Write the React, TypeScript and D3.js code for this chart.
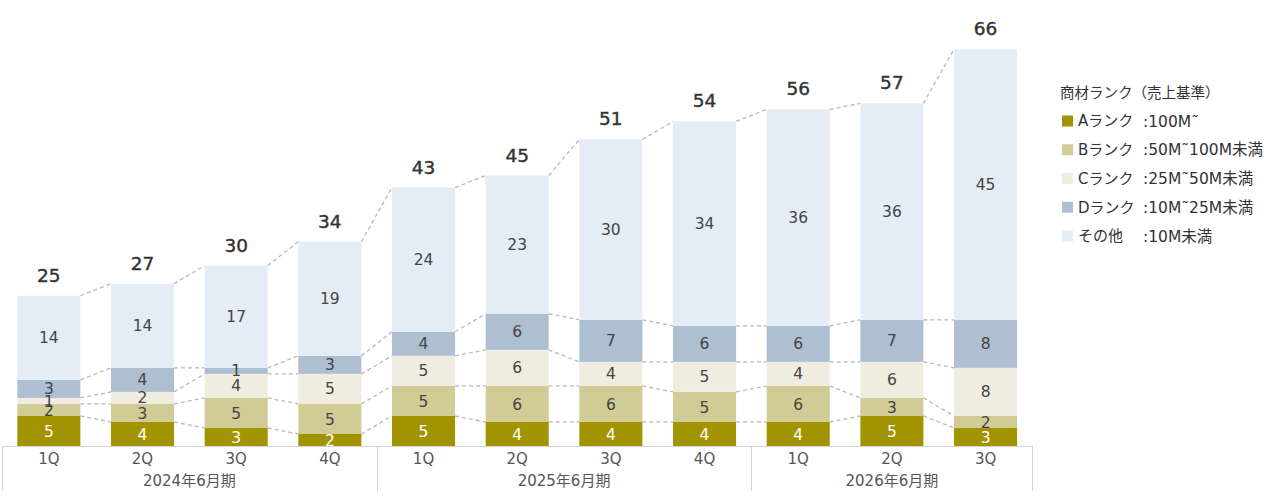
import { useEffect, useRef } from 'react';
import * as d3 from 'd3';

const quarters = ['1Q', '2Q', '3Q', '4Q', '1Q', '2Q', '3Q', '4Q', '1Q', '2Q', '3Q'];
const years = ['2024年6月期', '2025年6月期', '2026年6月期'];
const yearSpans = [4, 4, 3];

const rankA = [5, 4, 3, 2, 5, 4, 4, 4, 4, 5, 3];
const rankB = [2, 3, 5, 5, 5, 6, 6, 5, 6, 3, 2];
const rankC = [1, 2, 4, 5, 5, 6, 4, 5, 4, 6, 8];
const rankD = [3, 4, 1, 3, 4, 6, 7, 6, 6, 7, 8];
const others = [14, 14, 17, 19, 24, 23, 30, 34, 36, 36, 45];

const seriesKeys = ['A', 'B', 'C', 'D', 'E'];
const seriesColors = ['#a29400', '#d1cb96', '#efede0', '#afbfd2', '#e4ecf5'];
const legendTitle = '商材ランク（売上基準）';
const legendNames = ['Aランク', 'Bランク', 'Cランク', 'Dランク', 'その他'];
const legendRanges = [':100M˜', ':50M˜100M未満', ':25M˜50M未満', ':10M˜25M未満', ':10M未満'];

const FONT = '"DejaVu Sans", "Noto Sans CJK JP", sans-serif';

export default function App() {
	const svgRef = useRef(null);

	useEffect(() => {
		const svg = d3.select(svgRef.current);
		svg.selectAll('*').remove();

		const rows = quarters.map((q, i) => ({
			idx: String(i),
			A: rankA[i], B: rankB[i], C: rankC[i], D: rankD[i], E: others[i],
		}));
		const totals = rows.map(r => r.A + r.B + r.C + r.D + r.E);

		const x = d3.scaleBand()
			.domain(rows.map(r => r.idx))
			.range([2, 1032.4])
			.paddingInner(0.327)
			.paddingOuter(0.1635);

		const y = d3.scaleLinear()
			.domain([0, 66])
			.range([446, 49.3]);

		const stack = d3.stack().keys(seriesKeys);
		const layers = stack(rows as any);

		// dashed connectors between bars
		const conn = svg.append('g');
		const levels = layers.map(l => l.map(d => d[1]));
		levels.forEach(lv => {
			for (let i = 0; i < lv.length - 1; i++) {
				conn.append('line')
					.attr('x1', x(String(i))! + x.bandwidth())
					.attr('x2', x(String(i + 1))!)
					.attr('y1', y(lv[i]))
					.attr('y2', y(lv[i + 1]))
					.attr('stroke', '#b8b8b8')
					.attr('stroke-width', 1.3)
					.attr('stroke-dasharray', '4,3');
			}
		});

		// bars
		layers.forEach((layer, li) => {
			const g = svg.append('g');
			g.selectAll('rect')
				.data(layer)
				.join('rect')
				.attr('x', (d, i) => x(String(i))!)
				.attr('width', x.bandwidth())
				.attr('y', d => y(d[1]))
				.attr('height', d => y(d[0]) - y(d[1]))
				.attr('fill', seriesColors[li]);
		});

		// segment labels
		layers.forEach((layer, li) => {
			svg.append('g')
				.selectAll('text')
				.data(layer)
				.join('text')
				.attr('x', (d, i) => x(String(i))! + x.bandwidth() / 2)
				.attr('y', d => (y(d[0]) + y(d[1])) / 2)
				.attr('dy', '0.36em')
				.attr('text-anchor', 'middle')
				.attr('font-family', FONT)
				.attr('font-size', 15.5)
				.attr('fill', li === 0 ? '#ffffff' : '#444444')
				.text(d => d[1] - d[0]);
		});

		// totals
		svg.append('g')
			.selectAll('text')
			.data(totals)
			.join('text')
			.attr('x', (d, i) => x(String(i))! + x.bandwidth() / 2)
			.attr('y', d => y(d) - 14)
			.attr('text-anchor', 'middle')
			.attr('font-family', FONT)
			.attr('font-size', 18.5)
			.attr('fill', '#333333')
			.attr('stroke', '#333333')
			.attr('stroke-width', 0.4)
			.text(d => d);

		// category axis box
		const axis = svg.append('g');
		const x0 = 2, x1 = 1032.4;
		axis.append('line')
			.attr('x1', x0).attr('x2', x1)
			.attr('y1', 446.5).attr('y2', 446.5)
			.attr('stroke', '#d4d4d4');
		const step = x.step();
		let pos = 0;
		const bounds = [0];
		yearSpans.forEach(s => { pos += s; bounds.push(pos); });
		bounds.forEach(b => {
			const bx = Math.round(x0 + b * step) + 0.5;
			axis.append('line')
				.attr('x1', bx).attr('x2', bx)
				.attr('y1', 446).attr('y2', 491)
				.attr('stroke', '#d4d4d4');
		});
		axis.selectAll('text.q')
			.data(quarters)
			.join('text')
			.attr('class', 'q')
			.attr('x', (d, i) => x(String(i))! + x.bandwidth() / 2)
			.attr('y', 459)
			.attr('dy', '0.36em')
			.attr('text-anchor', 'middle')
			.attr('font-family', FONT)
			.attr('font-size', 15)
			.attr('fill', '#555555')
			.text(d => d);
		years.forEach((yr, i) => {
			const cx = x0 + ((bounds[i] + bounds[i + 1]) / 2) * step;
			axis.append('text')
				.attr('x', cx)
				.attr('y', 481)
				.attr('dy', '0.36em')
				.attr('text-anchor', 'middle')
				.attr('font-family', FONT)
				.attr('font-size', 15)
				.attr('fill', '#555555')
				.text(yr);
		});

		// legend
		const lg = svg.append('g').attr('transform', 'translate(1060, 0)');
		lg.append('text')
			.attr('x', 0)
			.attr('y', 93)
			.attr('dy', '0.36em')
			.attr('font-family', FONT)
			.attr('font-size', 14.5)
			.attr('fill', '#333333')
			.text(legendTitle);
		const itemY = d3.scaleLinear().domain([0, 4]).range([121, 236]);
		legendNames.forEach((name, i) => {
			const cy = itemY(i);
			lg.append('rect')
				.attr('x', 2)
				.attr('y', cy - 5.5)
				.attr('width', 11)
				.attr('height', 11)
				.attr('fill', seriesColors[i]);
			lg.append('text')
				.attr('x', 18)
				.attr('y', cy)
				.attr('dy', '0.36em')
				.attr('font-family', FONT)
				.attr('font-size', 15)
				.attr('fill', '#333333')
				.text(name);
			lg.append('text')
				.attr('x', 83)
				.attr('y', cy)
				.attr('dy', '0.36em')
				.attr('font-family', FONT)
				.attr('font-size', 15.5)
				.attr('fill', '#333333')
				.text(legendRanges[i]);
		});
	}, []);

	return (
		<svg
			ref={svgRef}
			width={1273}
			height={498}
			style={{ position: 'absolute', left: 0, top: 0, background: '#ffffff' }}
		/>
	);
}
